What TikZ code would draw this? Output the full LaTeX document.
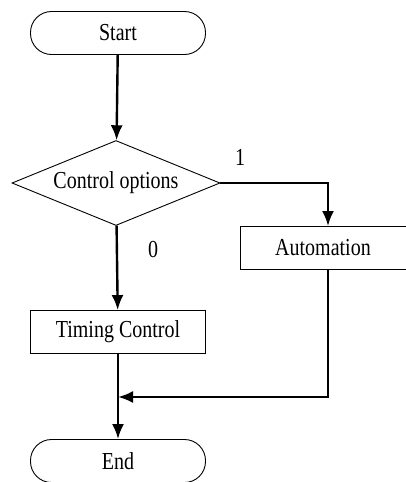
\documentclass[tikz,border=0pt]{standalone}
\usepackage{fontspec}
\setmainfont{Liberation Serif}
\usetikzlibrary{shapes.geometric,arrows.meta}
\newcommand{\tallt}[1]{\scalebox{1}[1.22]{#1}}
\begin{document}
\begin{tikzpicture}[x=1pt,y=-1pt,
  every node/.style={font=\fontsize{20}{22}\selectfont},
  terminal/.style={draw,line width=0.9pt,rounded corners=21pt,minimum width=175pt,minimum height=43pt,inner sep=0pt},
  procbox/.style={draw,line width=0.9pt,minimum height=43pt,inner sep=0pt},
  decision/.style={draw,line width=0.9pt,diamond,aspect=2.45,minimum width=208pt,minimum height=85pt,inner sep=0pt},
  flow/.style={line width=2.4pt,-{Latex[length=15pt,width=12pt]}},
  plain/.style={line width=2.4pt},
  lbl/.style={inner sep=0pt}]
\useasboundingbox (0,0) rectangle (406,482);
\node[terminal] (start) at (118,33) {\tallt{Start}};
\node[decision] (dec) at (116,183) {\tallt{Control options}};
\node[procbox,minimum width=166pt] (auto) at (323,248) {\tallt{Automation}};
\node[procbox,minimum width=175pt] (timing) at (118,332) {\tallt{Timing Control}};
\node[terminal] (end) at (118,461) {\tallt{End}};
\node[lbl] (one) at (240,157) {\tallt{1}};
\node[lbl] (zero) at (153,250) {\tallt{0}};
\coordinate (join) at (118,397);
\draw[flow] (start) -- (dec);
\draw[flow] (dec.east) -| (auto.north -| 328,0);
\draw[flow] (dec) -- (timing);
\draw[plain] (timing) -- (join);
\draw[flow] (join) -- (end);
\draw[flow] (auto.south -| 328,0) |- (join);
\end{tikzpicture}
\end{document}
